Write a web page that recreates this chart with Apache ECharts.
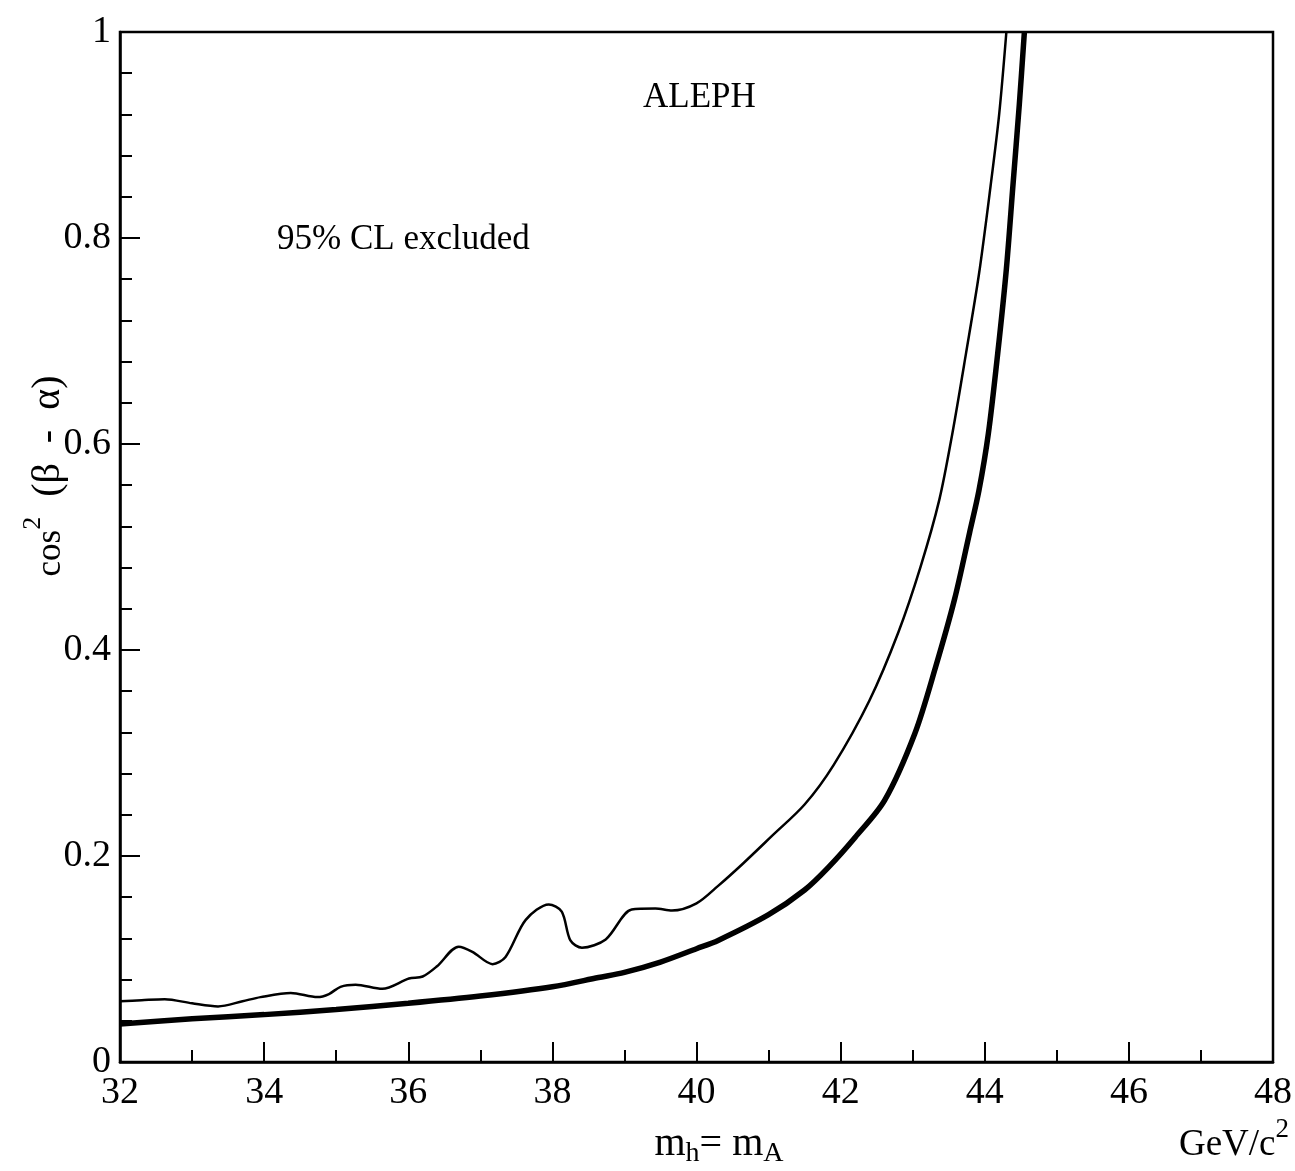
<!DOCTYPE html>
<html>
<head>
<meta charset="utf-8">
<script src="https://cdn.jsdelivr.net/npm/echarts@6/dist/echarts.min.js"></script>
<style>
  html, body { margin: 0; padding: 0; background: #fff; }
  #chart { width: 1295px; height: 1171px; }
</style>
</head>
<body>
<div id="chart"></div>
<script>
// observed limit (thin line)
var massThin = [32.0, 32.3, 32.62, 33.0, 33.36, 33.7, 33.95, 34.37, 34.74, 34.9, 35.06, 35.27, 35.64, 36.01, 36.2, 36.4, 36.7, 36.89, 37.17, 37.35, 37.63, 37.95, 38.13, 38.25, 38.41, 38.74, 39.1, 39.43, 39.66, 40.0, 40.3, 40.65, 41.04, 41.5, 41.9, 42.4, 42.8, 43.11, 43.37, 43.55, 43.74, 43.92, 44.08, 44.2, 44.3]
var limitThin = [0.059, 0.060, 0.061, 0.057, 0.054, 0.059, 0.063, 0.067, 0.063, 0.066, 0.073, 0.075, 0.071, 0.081, 0.083, 0.093, 0.112, 0.107, 0.095, 0.102, 0.138, 0.153, 0.146, 0.118, 0.111, 0.119, 0.148, 0.149, 0.147, 0.154, 0.171, 0.193, 0.219, 0.250, 0.288, 0.351, 0.417, 0.481, 0.546, 0.61, 0.688, 0.765, 0.85, 0.92, 1.0]

// expected limit (thick line)
var massThick = [32.0, 33.0, 34.0, 35.0, 36.0, 37.0, 38.0, 38.64, 39.0, 39.5, 40.0, 40.3, 41.0, 41.5, 41.83, 42.2, 42.61, 43.03, 43.32, 43.58, 43.79, 43.92, 44.05, 44.18, 44.3, 44.39, 44.48, 44.55]
var limitThick = [0.037, 0.042, 0.046, 0.051, 0.057, 0.064, 0.073, 0.082, 0.087, 0.097, 0.110, 0.118, 0.143, 0.167, 0.189, 0.218, 0.254, 0.319, 0.384, 0.449, 0.514, 0.555, 0.61, 0.688, 0.77, 0.85, 0.93, 1.0]

var serif = 'Liberation Serif'

function zip (xs, ys) {
  return xs.map(function (x, i) { return [x, ys[i]] })
}

var dom = echarts.init(document.getElementById('chart'), null, { renderer: 'canvas' })

var option = {
  backgroundColor: '#fff',
  animation: false,
  grid: {
    left: 120,
    right: 19,
    top: 32,
    bottom: 109,
    show: true,
    borderColor: '#000',
    borderWidth: 2.5,
    backgroundColor: 'transparent'
  },
  xAxis: {
    type: 'value',
    min: 32,
    max: 48,
    interval: 2,
    axisLine: { lineStyle: { color: '#000', width: 2.5 } },
    axisTick: { inside: true, length: 20, lineStyle: { color: '#000', width: 2 } },
    minorTick: { show: true, splitNumber: 2, length: 12, lineStyle: { color: '#000', width: 2 } },
    splitLine: { show: false },
    axisLabel: {
      margin: 12,
      color: '#000',
      fontFamily: serif,
      fontSize: 38,
      showMinLabel: true,
      showMaxLabel: true
    }
  },
  yAxis: {
    type: 'value',
    min: 0,
    max: 1,
    interval: 0.2,
    axisLine: { lineStyle: { color: '#000', width: 2.5 } },
    axisTick: { inside: true, length: 20, lineStyle: { color: '#000', width: 2 } },
    minorTick: { show: true, splitNumber: 5, length: 12, lineStyle: { color: '#000', width: 2 } },
    splitLine: { show: false },
    axisLabel: {
      margin: 9,
      color: '#000',
      fontFamily: serif,
      fontSize: 38,
      formatter: function (v) {
        if (v === 0 || v === 1) return String(v)
        return v.toFixed(1)
      }
    }
  },
  series: [
    {
      name: 'observed',
      type: 'line',
      data: zip(massThin, limitThin),
      smooth: 0.3,
      showSymbol: false,
      lineStyle: { color: '#000', width: 2.5 }
    },
    {
      name: 'expected',
      type: 'line',
      data: zip(massThick, limitThick),
      smooth: 0.3,
      showSymbol: false,
      lineStyle: { color: '#000', width: 5.5 }
    }
  ],
  graphic: [
    {
      type: 'text',
      left: 643,
      top: 80,
      style: { text: 'ALEPH', font: '35px ' + serif, fill: '#000' }
    },
    {
      type: 'text',
      left: 277,
      top: 222,
      style: { text: '95% CL excluded', font: '35px ' + serif, fill: '#000' }
    },
    {
      // y axis title, rotated
      type: 'text',
      x: 44,
      y: 476,
      rotation: Math.PI / 2,
      style: {
        text: '{n|cos}{s|2}{g|  (β\u2002-\u2002α)}',
        align: 'center',
        verticalAlign: 'middle',
        fill: '#000',
        rich: {
          n: { fontFamily: serif, fontSize: 35, lineHeight: 48, verticalAlign: 'bottom' },
          g: { fontFamily: serif, fontSize: 40, lineHeight: 48, verticalAlign: 'bottom' },
          s: { fontFamily: serif, fontSize: 26, lineHeight: 26, verticalAlign: 'top' }
        }
      }
    },
    {
      // x axis title
      type: 'text',
      x: 719,
      y: 1146,
      style: {
        text: '{n|m}{s|h}{n|= m}{s|A}',
        align: 'center',
        verticalAlign: 'middle',
        fill: '#000',
        rich: {
          n: { fontFamily: serif, fontSize: 40, lineHeight: 44, verticalAlign: 'top' },
          s: { fontFamily: serif, fontSize: 28, lineHeight: 28, verticalAlign: 'bottom' }
        }
      }
    },
    {
      type: 'text',
      x: 1234,
      y: 1140,
      style: {
        text: '{n|GeV/c}{s|2}',
        align: 'center',
        verticalAlign: 'middle',
        fill: '#000',
        rich: {
          n: { fontFamily: serif, fontSize: 37, lineHeight: 48, verticalAlign: 'bottom' },
          s: { fontFamily: serif, fontSize: 27, lineHeight: 27, verticalAlign: 'top' }
        }
      }
    }
  ]
}

dom.setOption(option)
window.addEventListener('resize', function () { dom.resize() })
</script>
</body>
</html>
